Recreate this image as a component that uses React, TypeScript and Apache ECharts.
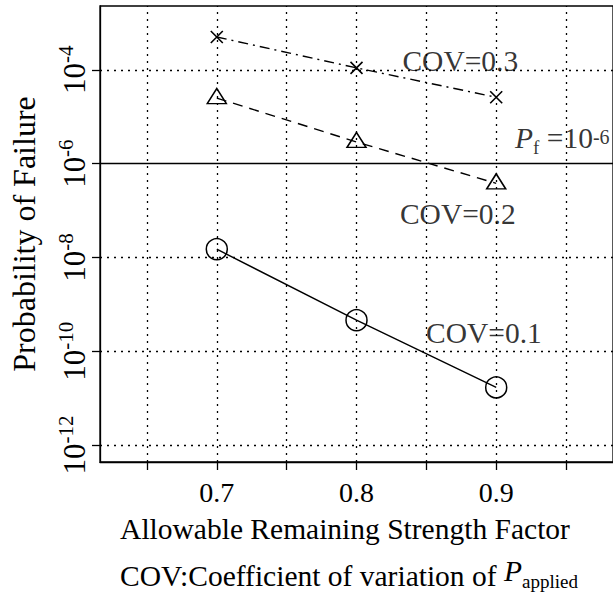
import React, { useEffect, useRef } from "react";
import * as echarts from "echarts";

// ---- data ----
const strengthFactors = [0.7, 0.8, 0.9];
const pfCov01 = [1.5e-8, 4.6e-10, 1.7e-11];
const pfCov02 = [2.5e-5, 2.9e-6, 3.8e-7];
const pfCov03 = [5.0e-4, 1.1e-4, 2.6e-5];
const targetPfExp = -6;

const xTickValues = [0.65, 0.7, 0.75, 0.8, 0.85, 0.9, 0.95];
const xLabelValues = [0.7, 0.8, 0.9];
const yTickExponents = [-12, -10, -8, -6, -4];
const xExtent = [0.6164, 0.9836];
const yExpExtent = [-12.36, -2.64];

const annotationTexts = ["COV=0.3", "COV=0.2", "COV=0.1", "Pf"];
const annotationX = [0.8743, 0.8725, 0.8912, 0.9135];
const annotationP = [1.55e-4, 8.5e-8, 2.5e-10, 2.95e-6];

const FONT = "Liberation Serif";

const toPoints = (vals: number[]) =>
  strengthFactors.map((f, i) => [f, Math.log10(vals[i])]);

export default function App() {
  const ref = useRef<HTMLDivElement>(null);

  useEffect(() => {
    if (!ref.current) return;
    const chart = echarts.init(ref.current, null, { renderer: "svg" });

    const black = "#000";
    const annData = annotationTexts.map((t, i) => {
      const isPf = t === "Pf";
      return {
        value: [annotationX[i], Math.log10(annotationP[i])],
        label: isPf
          ? {
              show: true,
              position: "right",
              distance: 0,
              textBorderWidth: 0,
              formatter: "{i|P}{sub|f}{n| =10}{sup|-6}",
              rich: {
                i: { fontFamily: FONT, fontSize: 29.5, fontStyle: "italic", color: black, lineHeight: 30, padding: [3, 0, 4, 0], verticalAlign: "bottom" },
                sub: { fontFamily: FONT, fontSize: 19, color: black, lineHeight: 19, verticalAlign: "bottom" },
                n: { fontFamily: FONT, fontSize: 29.5, color: black, lineHeight: 30, padding: [3, 0, 4, 0], verticalAlign: "bottom" },
                sup: { fontFamily: FONT, fontSize: 20, color: black, lineHeight: 20, verticalAlign: "top" },
              },
            }
          : {
              show: true,
              position: "inside",
              formatter: t,
              fontFamily: FONT,
              fontSize: 29.5,
              color: black,
              textBorderWidth: 0,
              textBorderColor: "transparent",
            },
      };
    });

    const option: any = {
      animation: false,
      backgroundColor: "#fff",
      grid: {
        left: 98,
        top: 6,
        width: 521,
        height: 456,
        show: true,
        borderColor: black,
        borderWidth: 1.3,
        backgroundColor: "transparent",
      },
      title: {
        text: "COV:Coefficient of variation of {i|P}{sub|applied}",
        left: 120,
        top: 561,
        padding: 0,
        textStyle: {
          fontFamily: FONT,
          fontSize: 29.5,
          fontWeight: "normal",
          color: black,
          rich: {
            i: { fontFamily: FONT, fontSize: 29.5, fontStyle: "italic", color: black, lineHeight: 30, padding: [0, 0, 5, 0], verticalAlign: "bottom" },
            sub: { fontFamily: FONT, fontSize: 19, color: black, lineHeight: 19, verticalAlign: "bottom" },
          },
        },
      },
      xAxis: {
        type: "value",
        min: xExtent[0],
        max: xExtent[1],
        name: "Allowable Remaining Strength Factor",
        nameLocation: "middle",
        nameGap: 52,
        nameTextStyle: { fontFamily: FONT, fontSize: 29.5, color: black, padding: [0, 23, 0, 0] },
        axisLine: { show: true, onZero: false, lineStyle: { color: black, width: 1.3 } },
        axisTick: { show: true, inside: false, length: 8, customValues: xTickValues, lineStyle: { color: black, width: 1.3 } },
        axisLabel: {
          customValues: xLabelValues,
          formatter: (v: number) => v.toFixed(1),
          fontFamily: FONT,
          fontSize: 28,
          color: black,
          margin: 16,
        },
        splitLine: { show: false },
      },
      yAxis: {
        type: "value",
        min: yExpExtent[0],
        max: yExpExtent[1],
        name: "Probability of Failure",
        nameLocation: "middle",
        nameRotate: 90,
        nameGap: 60,
        nameTextStyle: { fontFamily: FONT, fontSize: 32, color: black },
        axisLine: { show: true, onZero: false, lineStyle: { color: black, width: 1.3 } },
        axisTick: { show: true, inside: false, length: 8, customValues: yTickExponents, lineStyle: { color: black, width: 1.3 } },
        axisLabel: {
          customValues: yTickExponents,
          rotate: 90,
          margin: 14,
          formatter: (v: number) => `{b|10}{s|${v}}`,
          rich: {
            b: { fontFamily: FONT, fontSize: 31, color: black, lineHeight: 31, padding: [4, 0, 0, 0], verticalAlign: "top" },
            s: { fontFamily: FONT, fontSize: 21, color: black, lineHeight: 21, verticalAlign: "top" },
          },
        },
        splitLine: { show: false },
      },
      series: [
        {
          name: "COV=0.1",
          type: "line",
          data: toPoints(pfCov01),
          symbol: "circle",
          symbolSize: 21,
          itemStyle: { color: "rgba(0,0,0,0)", borderColor: black, borderWidth: 1.5 },
          lineStyle: { color: black, width: 1.4, type: "solid" },
          z: 3,
          markLine: {
            silent: true,
            symbol: "none",
            label: { show: false },
            lineStyle: { color: black, width: 1.3, type: [2, 5] },
            data: [
              ...xTickValues.map((x) => ({ xAxis: x })),
              ...yTickExponents.filter((e) => e !== targetPfExp).map((e) => ({ yAxis: e })),
            ],
          },
        },
        {
          name: "COV=0.2",
          type: "line",
          data: toPoints(pfCov02),
          symbol: "triangle",
          symbolSize: [19, 15],
          symbolOffset: [0, -2],
          itemStyle: { color: "rgba(0,0,0,0)", borderColor: black, borderWidth: 1.5 },
          lineStyle: { color: black, width: 1.4, type: [10, 7] },
          z: 3,
          markLine: {
            silent: true,
            symbol: "none",
            label: { show: false },
            lineStyle: { color: black, width: 1.4, type: "solid" },
            data: [{ yAxis: targetPfExp }],
          },
        },
        {
          name: "COV=0.3",
          type: "line",
          data: toPoints(pfCov03),
          symbol: "path://M0,0L10,10M10,0L0,10",
          symbolSize: 12,
          itemStyle: { color: "rgba(0,0,0,0)", borderColor: black, borderWidth: 1.6 },
          lineStyle: { color: black, width: 1.4, type: [10, 5, 2, 5] },
          z: 3,
        },
        {
          name: "labels",
          type: "scatter",
          symbolSize: 0,
          itemStyle: { color: black },
          data: annData,
          z: 4,
        },
      ],
    };

    chart.setOption(option);
    return () => chart.dispose();
  }, []);

  return (
    <div
      ref={ref}
      style={{ position: "fixed", left: 0, top: 0, width: 613, height: 599, background: "#fff" }}
    />
  );
}
